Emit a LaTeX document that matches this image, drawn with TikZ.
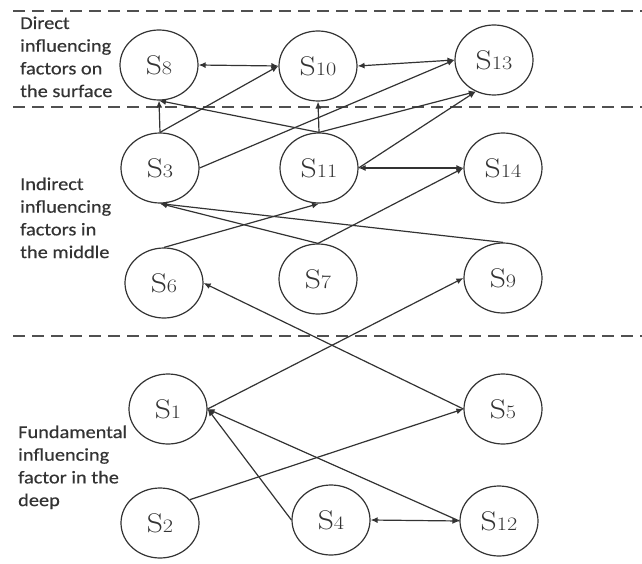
\documentclass[tikz,border=0pt]{standalone}
\usepackage{fontspec}
\usepackage{graphicx}
\usetikzlibrary{shapes.geometric,arrows.meta}
\newfontfamily\labfont[FakeBold=0.4]{Carlito}
\definecolor{ink}{HTML}{333333}
\definecolor{dashc}{HTML}{505050}
\newcommand\SL[1]{\scalebox{1.17}[1]{\fontsize{27}{30}\selectfont S{\fontsize{19}{20}\selectfont #1}}}
\newcommand\LB[1]{\scalebox{1.13}[1]{\vtop{\labfont\fontsize{18}{22.7}\selectfont\baselineskip=22.7pt #1}}}
\tikzset{
  st/.style={ellipse,draw=ink,line width=1.2pt,minimum width=78pt,minimum height=70pt,inner sep=0pt,text=ink},
  ed/.style={draw=ink,line width=1.2pt,-{Latex[length=7pt,width=6pt]}},
  bd/.style={draw=ink,line width=1.2pt,{Latex[length=7pt,width=6pt]}-{Latex[length=7pt,width=6pt]}},
  sep/.style={draw=dashc,line width=1.9pt,dash pattern=on 12pt off 7pt},
  lab/.style={anchor=base west,inner sep=0pt,text=ink}
}
\begin{document}
\begin{tikzpicture}[x=1pt,y=-1pt]
\useasboundingbox (0,0) rectangle (642,564);
% separators
\coordinate (d1a) at (13,11);  \coordinate (d1b) at (642,11);
\coordinate (d2a) at (13,107); \coordinate (d2b) at (642,107);
\coordinate (d3a) at (13,336); \coordinate (d3b) at (642,336);
\draw[sep] (d1a) -- (d1b);
\draw[sep] (d2a) -- (d2b);
\draw[sep] (d3a) -- (d3b);
% side labels
\node[lab] (L1) at (20,29) {\LB{\hbox{Direct}\hbox{influencing}\hbox{factors on}\hbox{the surface}}};
\node[lab] (L2) at (20,190) {\LB{\hbox{Indirect}\hbox{influencing}\hbox{factors in}\hbox{the middle}}};
\node[lab] (L3) at (18,438) {\LB{\hbox{Fundamental}\hbox{influencing}\hbox{factor in the}\hbox{deep}}};
% nodes
\node[st] (S8)  at (159,65)  {\SL{8}};
\node[st] (S10) at (318,66)  {\SL{10}};
\node[st] (S13) at (494,60)  {\SL{13}};
\node[st] (S3)  at (160,168) {\SL{3}};
\node[st] (S11) at (319,168) {\SL{11}};
\node[st] (S14) at (503,168) {\SL{14}};
\node[st] (S6)  at (164,283) {\SL{6}};
\node[st] (S7)  at (318,279) {\SL{7}};
\node[st] (S9)  at (503,278) {\SL{9}};
\node[st] (S1)  at (168,409) {\SL{1}};
\node[st] (S5)  at (503,409) {\SL{5}};
\node[st] (S2)  at (160,523) {\SL{2}};
\node[st] (S4)  at (331,520) {\SL{4}};
\node[st] (S12) at (499,521) {\SL{12}};
% edges
\draw[bd] (S8.east) -- (S10.west);
\draw[bd] (S10.east) -- (S13.west);
\draw[ed] (S3.north) -- (S8.south);
\draw[ed] (S3.north) -- (S10.west);
\draw[ed] (S3.east) -- (S13.west);
\draw[ed] (S11.north) -- (S8.south);
\draw[ed] (S11.north) -- (S10.south);
\draw[ed] (S11.north) -- (S13.-120);
\draw[ed] (S11.east) -- (S13.-120);
\draw[bd] (S11.east) -- (S14.west);
\draw[ed] (S6.north) -- (S11.south);
\draw[ed] (S7.north) -- (S3.south);
\draw[ed] (S9.north) -- (S3.south);
\draw[ed] (S7.north) -- (S14.west);
\draw[ed] (S5.west) -- (S6.east);
\draw[ed] (S1.east) -- (S9.west);
\draw[ed] (S2.38) -- (S5.west);
\draw[ed] (S4.west) -- (S1.east);
\draw[ed] (S12.west) -- (S1.east);
\draw[bd] (S4.east) -- (S12.west);
\end{tikzpicture}
\end{document}
